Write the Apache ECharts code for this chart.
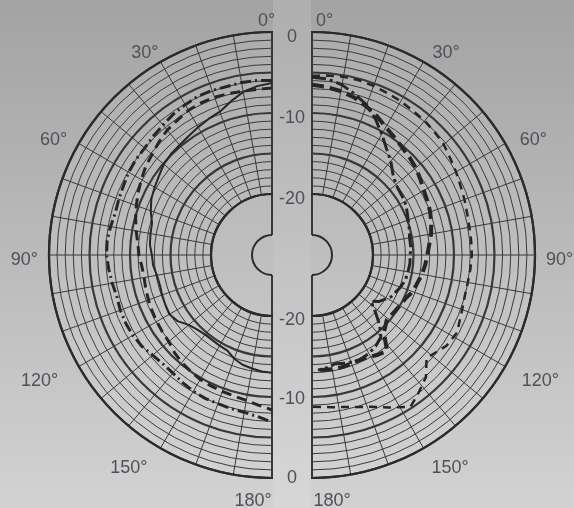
<!DOCTYPE html>
<html><head><meta charset="utf-8">
<script src="https://cdn.jsdelivr.net/npm/echarts@6/dist/echarts.min.js"></script>
<style>
html,body{margin:0;padding:0}
#wrap{position:relative;width:574px;height:508px;overflow:hidden;background:linear-gradient(#a3a3a3,#d2d2d2)}
#gap{position:absolute;left:273px;top:0;width:38px;height:508px;background:rgba(255,255,255,0.12)}
#left{position:absolute;left:0;top:0;width:273px;height:508px;overflow:hidden}
#right{position:absolute;left:311px;top:0;width:263px;height:508px;overflow:hidden}
#labels{position:absolute;left:0;top:0;width:574px;height:508px}
</style>
</head><body><div id="wrap"><div id="gap"></div><div id="left"></div><div id="right"></div><div id="labels"></div></div>
<script>
// ---- data (dB vs angle in degrees) ----
const angleLabelTicks = [0, 30, 60, 90, 120, 150, 180];
const radiusLabelTicks = [0, -10, -20];

const leftAngles = [0,5,10,15,20,25,30,35,40,45,50,55,60,65,70,75,80,85,90,95,100,105,110,115,120,125,130,135,140,145,150,155,160,165,170,175,180];
const leftSolid =  [-6.3,-6.6,-7.1,-7.9,-8.7,-9.0,-9.3,-9.6,-9.8,-9.9,-10.1,-10.5,-10.8,-11.1,-11.6,-12.2,-12.3,-12.4,-12.7,-12.8,-13.1,-13.2,-13.1,-13.0,-12.9,-13.3,-14.1,-14.5,-14.7,-14.7,-14.6,-14.5,-13.9,-13.5,-13.3,-13.1,-13.0];
const leftDashed = [-6.9,-7.0,-7.0,-6.9,-6.8,-6.8,-6.9,-7.2,-7.4,-7.8,-8.2,-8.5,-8.9,-9.3,-9.7,-10.1,-10.5,-10.9,-11.1,-11.4,-11.5,-11.4,-11.3,-11.2,-11.1,-11.0,-10.9,-10.5,-10.2,-10.0,-9.8,-9.7,-9.6,-9.5,-9.3,-8.9,-8.4];
const leftDashDot = [-6.0,-5.9,-5.9,-6.0,-5.9,-5.9,-6.1,-6.3,-6.6,-6.8,-7.0,-7.0,-7.1,-7.3,-7.4,-7.5,-7.3,-7.1,-7.1,-7.3,-7.5,-7.7,-7.6,-7.6,-7.7,-7.9,-8.3,-8.5,-8.5,-8.3,-8.1,-8.0,-8.0,-7.9,-7.8,-7.5,-6.9];

const rightThickAngles = [0,5,10,15,20,25,30,35,40,45,50,55,60,65,70,75,80,85,90,95,100,110,115,120,125,131,137,142,147,152,156,160,165,170,177];
const rightThickDashed = [-6.5,-6.7,-7.0,-7.4,-8.0,-8.6,-9.3,-9.8,-10.2,-10.5,-10.8,-11.2,-11.6,-11.8,-12.0,-12.3,-12.6,-13.0,-13.3,-13.5,-13.75,-14.3,-14.8,-15.0,-15.2,-15.3,-14.5,-12.5,-12.8,-13.2,-13.3,-13.3,-13.2,-13.2,-13.3];
const rightDashDotAngles = [0,5,10,15,20,25,30,35,40,45,50,55,60,65,70,75,80,85,90,95,100,105,110,118,125,128,132,136,140,145,150,156,162,168,172,177];
const rightDashDot = [-5.6,-5.7,-6.2,-7.0,-7.8,-9.0,-10.3,-11.5,-12.4,-13.4,-14.0,-14.2,-14.3,-14.6,-14.9,-15.1,-15.3,-15.3,-15.4,-15.4,-15.5,-15.6,-15.9,-16.5,-17.5,-18.3,-17.0,-15.5,-14.3,-13.8,-13.5,-13.3,-13.5,-13.8,-13.5,-13.3];
const rightThinAngles = [0,5,10,15,20,25,30,35,40,45,50,55,60,65,70,75,80,85,90,95,100,105,110,115,118,124,132,137,143,147,153,159,166,173,180];
const rightThinDashed = [-5.4,-5.3,-5.2,-5.2,-5.3,-5.5,-5.6,-5.8,-5.9,-6.1,-6.3,-6.7,-7.0,-7.3,-7.5,-7.7,-7.8,-7.8,-7.8,-7.9,-8.0,-8.0,-7.8,-7.5,-7.2,-7.5,-8.5,-6.9,-5.9,-5.2,-6.4,-7.45,-8.2,-8.6,-8.8];

// ---- layout / style ----
const CY = 255, LCX = 272, RCX = 312, R_OUT = 223, R_IN = 61, R_NOTCH = 20;
const LINE = '#2b2b2b', DATA = '#262626', TXT = '#4d5159', FONT = 'Liberation Sans';

function pairs(vals, angs) { return vals.map((v, i) => [v, angs[i]]); }
const hid = {axisLine:{show:false}, axisTick:{show:false}, axisLabel:{show:false}, splitLine:{show:false}};

function gridOption(cx, right, series) {
  const ang = right ? {startAngle:90, endAngle:-90, clockwise:true} : {startAngle:90, endAngle:270, clockwise:false};
  const polar = [
    {center:[cx, CY], radius:[R_IN, R_OUT]},
    {center:[cx, CY], radius:[R_IN, R_OUT]},
    {center:[cx, CY], radius:[R_NOTCH, R_OUT]},
    {center:[cx, CY], radius:[0, R_NOTCH]}
  ];
  const angleAxis = [
    Object.assign({type:'value', min:0, max:180, interval:10}, hid, {splitLine:{show:true, lineStyle:{color:LINE, width:1}}}, ang),
    Object.assign({type:'value', min:0, max:180, interval:10}, hid, {axisLine:{show:true, lineStyle:{color:LINE, width:2.2}}}, ang),
    Object.assign({type:'value', min:0, max:180, interval:180}, hid, {splitLine:{show:true, lineStyle:{color:LINE, width:2}},
      splitArea:{show:true, areaStyle:{color:['rgba(255,255,255,0.07)']}}}, ang),
    Object.assign({type:'value', min:0, max:180, interval:180}, hid, {axisLine:{show:true, lineStyle:{color:LINE, width:2}},
      splitArea:{show:true, areaStyle:{color:['rgba(255,255,255,0.07)']}}}, ang)
  ].map((a, i) => Object.assign(a, {polarIndex:i}));
  const radiusAxis = [
    Object.assign({type:'value', min:-20, max:0, interval:1}, hid, {splitLine:{show:true, lineStyle:{color:LINE, width:1}}}),
    Object.assign({type:'value', min:-20, max:0, interval:5}, hid, {splitLine:{show:true, lineStyle:{color:LINE, width:2.2}}}),
    Object.assign({type:'value', min:-25, max:0}, hid),
    Object.assign({type:'value', min:0, max:1}, hid)
  ].map((a, i) => Object.assign(a, {polarIndex:i}));
  return {animation:false, polar, angleAxis, radiusAxis, series};
}

function line(data, width, type) {
  return {type:'line', coordinateSystem:'polar', polarIndex:0, data, symbol:'none', smooth:false,
    lineStyle:{color:DATA, width, type}, z:5, silent:true};
}

// left half
echarts.init(document.getElementById('left')).setOption(gridOption(LCX, false, [
  line(pairs(leftSolid, leftAngles), 2, 'solid'),
  line(pairs(leftDashed, leftAngles), 3, [10,6]),
  line(pairs(leftDashDot, leftAngles), 3, [11,4,2,4])
]));
// right half (div starts at x=311)
echarts.init(document.getElementById('right')).setOption(gridOption(RCX - 311, true, [
  line(pairs(rightThickDashed, rightThickAngles), 4, [12,6]),
  line(pairs(rightDashDot, rightDashDotAngles), 3, [14,4,3,4]),
  line(pairs(rightThinDashed, rightThinAngles), 2.5, [8,6])
]));

// labels overlay
const txt = {fontSize:18, color:TXT, fontFamily:FONT};
const richL = {
  l0:{padding:[0,11,14,0]}, l30:{padding:[0,8,10,0]}, l60:{padding:[0,22,0,0]}, l90:{padding:[10,23,0,0]},
  l120:{padding:[12,31,0,0]}, l150:{padding:[21,19,0,0]}, l180:{padding:[26,38,0,0]}
};
const richR = {
  r0:{padding:[0,0,14,25]}, r30:{padding:[0,0,10,15]}, r60:{padding:[0,0,0,25]}, r90:{padding:[10,0,0,23]},
  r120:{padding:[12,0,0,27]}, r150:{padding:[21,0,0,14]}, r180:{padding:[26,0,0,40]}
};
for (const k in richL) Object.assign(richL[k], txt);
for (const k in richR) Object.assign(richR[k], txt);

function angleLabels(pre, rich, ang) {
  return Object.assign({type:'value', min:0, max:180, interval:30}, hid, {
    axisLabel:{show:true, margin:0, rich, formatter: v => angleLabelTicks.includes(v) ? '{' + pre + v + '|' + v + '°}' : ''}}, ang);
}
const radLabel = Object.assign({type:'value', min:-20, max:0, interval:10}, hid, {
  axisLabel:{show:true, margin:0, align:'center', verticalAlign:'middle', fontSize:18, color:TXT, fontFamily:FONT,
    formatter: v => radiusLabelTicks.includes(v) ? String(v) : ''}});

const labelOpt = {
  animation:false,
  polar:[
    {center:[LCX, CY], radius:[0, 211]},
    {center:[RCX, CY], radius:[0, 211]},
    {center:[292, 260], radius:[R_IN, 223]},
    {center:[292, 259], radius:[R_IN, 219]}
  ],
  angleAxis:[
    Object.assign(angleLabels('l', richL, {startAngle:90, endAngle:270, clockwise:false}), {polarIndex:0}),
    Object.assign(angleLabels('r', richR, {startAngle:90, endAngle:-90, clockwise:true}), {polarIndex:1}),
    Object.assign({type:'value', min:0, max:180, startAngle:90, endAngle:-90}, hid, {polarIndex:2}),
    Object.assign({type:'value', min:0, max:180, startAngle:-90, endAngle:90, clockwise:false}, hid, {polarIndex:3})
  ],
  radiusAxis:[
    Object.assign({type:'value', min:0, max:1}, hid, {polarIndex:0}),
    Object.assign({type:'value', min:0, max:1}, hid, {polarIndex:1}),
    Object.assign({}, radLabel, {polarIndex:2}),
    Object.assign({}, radLabel, {polarIndex:3})
  ],
  series:[]
};
echarts.init(document.getElementById('labels')).setOption(labelOpt);
</script></body></html>
